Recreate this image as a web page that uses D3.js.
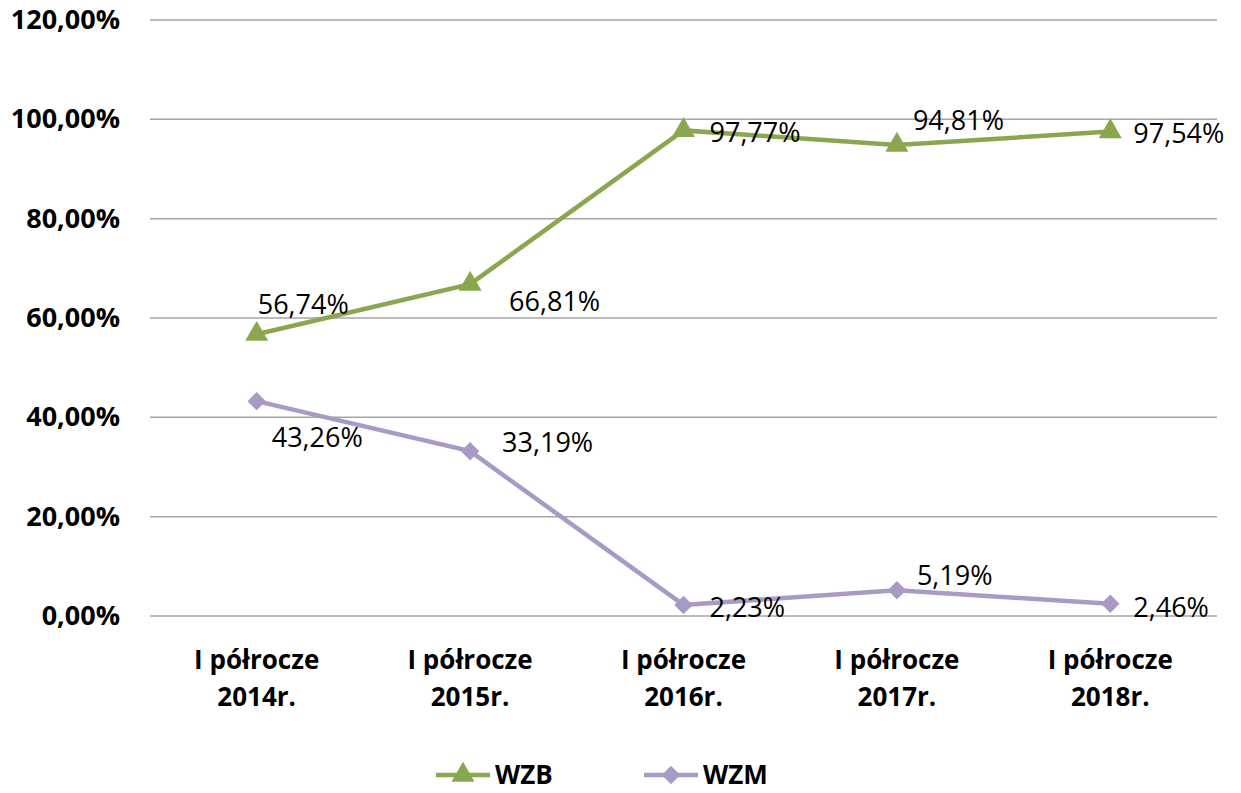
<!DOCTYPE html>
<meta charset="utf-8">
<style>
body { margin: 0; background: #fff; }
text { font-family: "Open Sans", sans-serif; fill: #000; }
.tick text { font-weight: 700; font-size: 27px; }
.cat { font-weight: 700; font-size: 26px; }
.lbl { font-size: 27px; font-weight: 500; }
.leg { font-weight: 700; font-size: 26px; }
</style>
<body>
<script src="https://d3js.org/d3.v7.min.js"></script>
<script>
// data
var categories = ["I półrocze|2014r.", "I półrocze|2015r.", "I półrocze|2016r.", "I półrocze|2017r.", "I półrocze|2018r."];
var wzb = [56.74, 66.81, 97.77, 94.81, 97.54];
var wzm = [43.26, 33.19, 2.23, 5.19, 2.46];
var yTicks = [0, 20, 40, 60, 80, 100, 120];

// where each data label sits relative to its point (left edge, baseline)
var wzbLabelOff = [[1, -20], [39, 27], [26, 12], [16, -15], [23, 11]];
var wzmLabelOff = [[15, 46], [32, 1], [26, 12], [20, -5], [23, 13]];

var W = 1241, H = 793;
var green = "#8aa74f", purple = "#a99ac5";

var svg = d3.select("body").append("svg")
    .attr("width", W)
    .attr("height", H);

var x = d3.scalePoint().domain(categories).range([150, 1217]).padding(0.5);
var y = d3.scaleLinear().domain([0, 120]).range([616, 20]);

var pct = function(v) { return d3.format(".2f")(v).replace(".", ",") + "%"; };

// gridlines
svg.append("g").selectAll("line")
    .data(yTicks)
  .enter().append("line")
    .attr("x1", 150).attr("x2", 1217)
    .attr("y1", function(d) { return y(d); })
    .attr("y2", function(d) { return y(d); })
    .attr("stroke", "#a6a6a6")
    .attr("stroke-width", 1.5);

// y axis labels
var yAxis = svg.append("g")
    .attr("transform", "translate(150,0)")
    .call(d3.axisLeft(y).tickValues(yTicks).tickSize(0).tickPadding(30).tickFormat(pct));
yAxis.select(".domain").remove();
yAxis.selectAll(".tick text").style("font-family", "'Open Sans', sans-serif").attr("fill", "#000");

// category labels
var cat = svg.append("g").selectAll("text")
    .data(categories)
  .enter().append("text")
    .attr("class", "cat")
    .attr("text-anchor", "middle")
    .attr("x", function(d) { return x(d); });
cat.append("tspan").attr("x", function(d) { return x(d); }).attr("y", 669)
    .text(function(d) { return d.split("|")[0]; });
cat.append("tspan").attr("x", function(d) { return x(d); }).attr("y", 706)
    .text(function(d) { return d.split("|")[1]; });

var line = d3.line()
    .x(function(d, i) { return x(categories[i]); })
    .y(function(d) { return y(d); });

var tri = d3.symbol().type(d3.symbolTriangle).size(230);
var dia = d3.symbol().type(d3.symbolSquare).size(170);

function drawSeries(vals, color, marker, rot, offs) {
  svg.append("path")
      .datum(vals)
      .attr("fill", "none")
      .attr("stroke", color)
      .attr("stroke-width", 4.5)
      .attr("d", line);
  svg.append("g").selectAll("path")
      .data(vals)
    .enter().append("path")
      .attr("d", marker)
      .attr("fill", color)
      .attr("transform", function(d, i) {
        return "translate(" + x(categories[i]) + "," + y(d) + ") rotate(" + rot + ")";
      });
  svg.append("g").selectAll("text")
      .data(vals)
    .enter().append("text")
      .attr("class", "lbl")
      .attr("x", function(d, i) { return x(categories[i]) + offs[i][0]; })
      .attr("y", function(d, i) { return y(d) + offs[i][1]; })
      .text(pct);
}

drawSeries(wzb, green, tri, 0, wzbLabelOff);
drawSeries(wzm, purple, dia, 45, wzmLabelOff);

// legend
var legend = [
  {name: "WZB", color: green, marker: tri, rot: 0, x0: 436},
  {name: "WZM", color: purple, marker: dia, rot: 45, x0: 644}
];
var lg = svg.append("g").selectAll("g")
    .data(legend)
  .enter().append("g")
    .attr("transform", function(d) { return "translate(" + d.x0 + ",775)"; });
lg.append("line")
    .attr("x1", 0).attr("x2", 54)
    .attr("stroke", function(d) { return d.color; })
    .attr("stroke-width", 4.5);
lg.append("path")
    .attr("d", function(d) { return d.marker(); })
    .attr("fill", function(d) { return d.color; })
    .attr("transform", function(d) { return "translate(27,0) rotate(" + d.rot + ")"; });
lg.append("text")
    .attr("class", "leg")
    .attr("x", 59)
    .attr("y", 9)
    .text(function(d) { return d.name; });
</script>
</body>
